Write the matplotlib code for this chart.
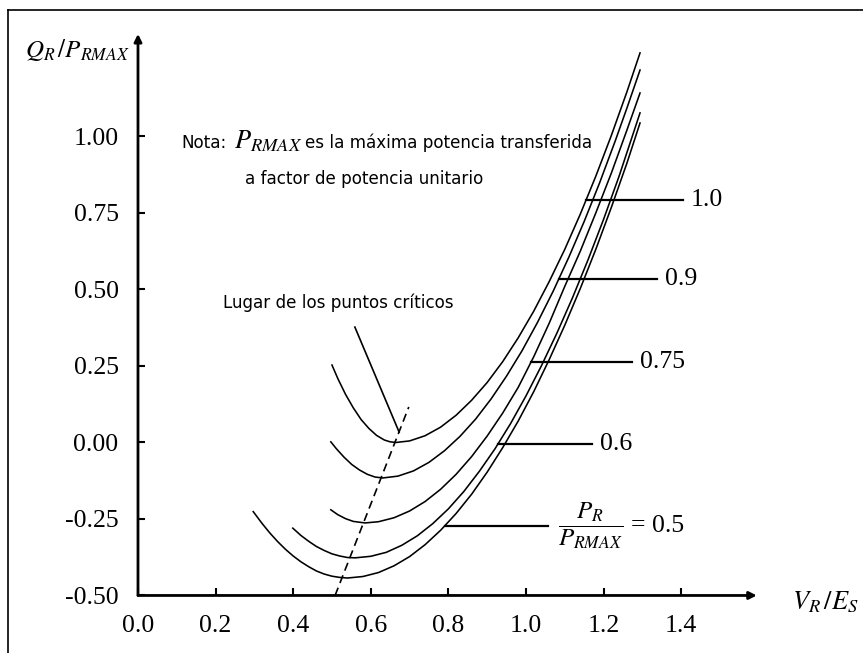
import numpy as np
import matplotlib.pyplot as plt
from matplotlib.lines import Line2D

plt.rcParams['mathtext.fontset'] = 'stix'
plt.rcParams['axes.unicode_minus'] = False

# Curvas Q-V: (V_R/E_S, Q_R/P_RMAX) para cada P_R/P_RMAX
v_10 = [0.500, 0.515, 0.535, 0.555, 0.575, 0.595, 0.615, 0.635, 0.650, 0.665,
        0.70, 0.74, 0.78, 0.82, 0.86, 0.90, 0.94, 0.98, 1.02, 1.06, 1.10, 1.14,
        1.18, 1.22, 1.26, 1.294]
q_10 = [0.253, 0.209, 0.157, 0.113, 0.075, 0.046, 0.023, 0.008, 0.002, 0.0,
        0.005, 0.022, 0.050, 0.089, 0.138, 0.196, 0.264, 0.342, 0.429, 0.526, 0.631, 0.746,
        0.870, 1.003, 1.145, 1.273]

v_09 = [0.497, 0.511, 0.531, 0.551, 0.571, 0.591, 0.611, 0.631,
        0.67, 0.71, 0.75, 0.79, 0.83, 0.87, 0.91, 0.95, 0.99, 1.03, 1.07, 1.11,
        1.15, 1.19, 1.23, 1.26, 1.294]
q_09 = [0.002, -0.020, -0.048, -0.072, -0.090, -0.104, -0.113, -0.116,
        -0.110, -0.093, -0.065, -0.027, 0.020, 0.076, 0.142, 0.217, 0.300, 0.393, 0.494, 0.604,
        0.722, 0.849, 0.985, 1.092, 1.217]

v_075 = [0.497, 0.515, 0.535, 0.555, 0.585,
         0.62, 0.66, 0.70, 0.74, 0.78, 0.82, 0.86, 0.90, 0.94, 0.98, 1.02, 1.06, 1.10,
         1.14, 1.18, 1.22, 1.26, 1.294]
q_075 = [-0.220, -0.236, -0.249, -0.258, -0.263,
         -0.259, -0.246, -0.224, -0.193, -0.153, -0.104, -0.046, 0.021, 0.096, 0.180, 0.280, 0.390, 0.510,
         0.625, 0.750, 0.880, 1.020, 1.142]

v_06 = [0.399, 0.42, 0.44, 0.46, 0.48, 0.50, 0.52, 0.54, 0.56,
        0.60, 0.64, 0.68, 0.72, 0.76, 0.80, 0.84, 0.88, 0.92, 0.96, 1.00, 1.04, 1.08,
        1.12, 1.16, 1.20, 1.24, 1.294]
q_06 = [-0.280, -0.304, -0.323, -0.340, -0.353, -0.364, -0.371, -0.376, -0.377,
        -0.372, -0.359, -0.336, -0.305, -0.265, -0.217, -0.160, -0.094, -0.021, 0.061, 0.152, 0.251, 0.358,
        0.473, 0.597, 0.729, 0.870, 1.077]

v_05 = [0.297, 0.32, 0.34, 0.36, 0.38, 0.40, 0.42, 0.44, 0.46, 0.48, 0.50, 0.52, 0.54,
        0.58, 0.62, 0.66, 0.70, 0.74, 0.78, 0.82, 0.86, 0.90, 0.94, 0.98, 1.02, 1.06,
        1.10, 1.14, 1.18, 1.22, 1.26, 1.294]
q_05 = [-0.226, -0.265, -0.296, -0.324, -0.349, -0.371, -0.390, -0.406, -0.420, -0.430, -0.437, -0.441, -0.443,
        -0.438, -0.425, -0.403, -0.373, -0.334, -0.287, -0.232, -0.169, -0.097, -0.017, 0.070, 0.166, 0.271,
        0.383, 0.503, 0.631, 0.768, 0.912, 1.044]

curves = [(v_10, q_10), (v_09, q_09), (v_075, q_075), (v_06, q_06), (v_05, q_05)]
pr_labels = ['1.0', '0.9', '0.75', '0.6']

# Lugar de los puntos criticos
v_crit = [0.508, 0.698]
q_crit = [-0.5, 0.116]

fig = plt.figure(figsize=(8.63, 6.53), dpi=100)
ax = fig.add_axes([0.1599, 0.0881, 0.7193, 0.8576])
ax.set_xlim(0, 1.6)
ax.set_ylim(-0.5, 1.33)

for v, q in curves:
    ax.plot(v, q, color='black', lw=1.15)

ax.plot(v_crit, q_crit, color='black', lw=1.2, ls=(0, (5, 3)))


def right_branch_x(idx, y):
    v, q = curves[idx]
    i0 = int(np.argmin(q))
    return np.interp(y, q[i0:], v[i0:])


# lineas de referencia y etiquetas de P_R/P_RMAX
leader_y = [0.792, 0.534, 0.263, -0.005]
leader_end = [1.405, 1.338, 1.273, 1.170]
for idx, (y, xend, txt) in enumerate(zip(leader_y, leader_end, pr_labels)):
    xs = right_branch_x(idx, y)
    ax.plot([xs, xend], [y, y], color='black', lw=1.6)
    ax.text(xend + 0.02, y, txt, fontsize=18.5, family='Liberation Serif', va='center', ha='left')

xs = right_branch_x(4, -0.273)
ax.plot([xs, 1.057], [-0.273, -0.273], color='black', lw=1.6)
ax.text(1.082, -0.273, r'$\dfrac{P_R}{P_{RMAX}}$', fontsize=18, va='center', ha='left')
ax.text(1.272, -0.273, '= 0.5', fontsize=18.5, family='Liberation Serif', va='center', ha='left')

# flecha hacia el lugar de los puntos criticos
ax.plot([0.559, 0.673], [0.377, 0.034], color='black', lw=1.2)
note_font = dict(fontsize=12.1, family='DejaVu Sans', va='center', ha='left')
ax.text(0.219, 0.456, 'Lugar de los puntos críticos', **note_font)

ax.text(0.113, 0.979, 'Nota:', **note_font)
ax.text(0.248, 0.985, r'$P_{RMAX}$', fontsize=19, va='center')
ax.text(0.43, 0.979, 'es la máxima potencia transferida', **note_font)
ax.text(0.276, 0.861, 'a factor de potencia unitario', **note_font)

# ejes con flechas
for s in ax.spines.values():
    s.set_visible(False)
arrow = dict(arrowstyle='-|>', color='black', lw=2, mutation_scale=11, shrinkA=0, shrinkB=0)
ax.annotate('', xy=(0, 1.335), xytext=(0, -0.5), arrowprops=arrow, annotation_clip=False)
ax.annotate('', xy=(1.595, -0.5), xytext=(0, -0.5), arrowprops=arrow, annotation_clip=False)

xt = np.arange(0, 1.41, 0.2)
yt = np.arange(-0.5, 1.01, 0.25)
ax.set_xticks(xt)
ax.set_xticklabels(['%.1f' % t for t in xt])
ax.set_yticks(yt)
ax.set_yticklabels(['%.2f' % t for t in yt])
ax.tick_params(direction='in', length=5, width=1.5, labelsize=18.5, pad=14)
for lab in ax.get_xticklabels() + ax.get_yticklabels():
    lab.set_family('Liberation Serif')

fig.text(0.029, 0.923, r'$Q_R\,/P_{RMAX}$', fontsize=18, va='center', ha='left')
fig.text(0.918, 0.078, r'$V_R\,/E_S$', fontsize=19, va='center', ha='left')

# marco exterior
fig.add_artist(Line2D([8 / 863, 8 / 863], [0, 1 - 10 / 653], color='black', lw=1.2))
fig.add_artist(Line2D([8 / 863, 1], [1 - 10 / 653, 1 - 10 / 653], color='black', lw=1.2))

fig.savefig('out.png', dpi=100)
